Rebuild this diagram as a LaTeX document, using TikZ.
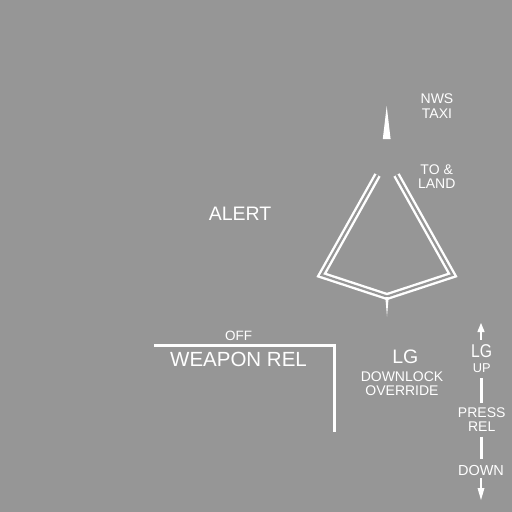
\documentclass[tikz,border=0pt]{standalone}
\usepackage{fontspec}
\setmainfont{Liberation Sans}
\begin{document}
\begin{tikzpicture}[x=1pt,y=-1pt,
  lbl/.style={text=white, inner sep=0pt, outer sep=0pt, align=center},
  bar/.style={draw=white, line width=2.5pt},
  thick bar/.style={draw=white, line width=3pt},
  tipfill/.style={fill=white, draw=none}]
\definecolor{bg}{RGB}{150,150,150}
\fill[bg] (0,0) rectangle (512,512);
\useasboundingbox (0,0) rectangle (512,512);

% labels
\node[lbl, font=\fontsize{14}{14.6}\selectfont] (nws) at (437,106) {NWS\\TAXI};
\node[lbl, font=\fontsize{14}{14.2}\selectfont] (toland) at (436.7,176.3) {TO \&\\LAND};
\node[lbl, font=\fontsize{19.5}{20}\selectfont] (alert) at (240,213.5) {ALERT};
\node[lbl, font=\fontsize{13.5}{14}\selectfont] (off) at (238.5,336.2) {OFF};
\node[lbl, font=\fontsize{20.5}{21}\selectfont] (weapon) at (238.5,359) {WEAPON REL};
\node[lbl, font=\fontsize{19.5}{20}\selectfont] (lg1) at (405.3,356.3) {LG};
\node[lbl, font=\fontsize{14}{14.4}\selectfont] (dlo) at (402,383.5) {DOWNLOCK\\OVERRIDE};
\node[lbl, font=\fontsize{18.5}{19}\selectfont, xscale=0.85] (lg2) at (481.7,351) {LG};
\node[lbl, font=\fontsize{12.8}{13}\selectfont] (up) at (481.7,368.5) {UP};
\node[lbl, font=\fontsize{14}{14}\selectfont] (press) at (481.7,419.7) {PRESS\\REL};
\node[lbl, font=\fontsize{14.5}{15}\selectfont] (down) at (481,471) {DOWN};

% weapon rel bracket
\coordinate (w1) at (154,345);
\coordinate (w2) at (334,345);
\coordinate (w3) at (334,432);
\draw[thick bar, line join=miter] (w1) -- (w2) -- (w3);

% diamond (double line)
\coordinate (d1) at (377.5,175);
\coordinate (d2) at (321.5,275);
\coordinate (d3) at (387,296.5);
\coordinate (d4) at (452.5,275);
\coordinate (d5) at (396.5,175);
\draw[draw=white, line width=2.4pt, double=bg, double distance=2.2pt, line join=miter]
  (d1) -- (d2) -- (d3) -- (d4) -- (d5);

% pointer
\coordinate (p1) at (382.8,139);
\coordinate (p2) at (390.6,139);
\coordinate (p3) at (386.7,106);
\fill[tipfill] (p1) -- (p2) -- (p3) -- cycle;

% spike under diamond
\coordinate (s1) at (385.3,297);
\coordinate (s2) at (388.7,297);
\coordinate (s3) at (387,316.5);
\fill[tipfill] (s1) -- (s2) -- (s3) -- cycle;

% LG switch column
\coordinate (ua1) at (481,339.5);
\coordinate (ua2) at (481,331);
\coordinate (uh1) at (477.3,332);
\coordinate (uh2) at (484.7,332);
\coordinate (uh3) at (481,323);
\draw[bar] (ua1) -- (ua2);
\fill[tipfill] (uh1) -- (uh2) -- (uh3) -- cycle;

\coordinate (b1) at (481.5,378);
\coordinate (b2) at (481.5,403.3);
\coordinate (b3) at (481.5,436.7);
\coordinate (b4) at (481.5,459);
\draw[bar] (b1) -- (b2);
\draw[bar] (b3) -- (b4);

\coordinate (da1) at (481,478);
\coordinate (da2) at (481,489);
\coordinate (dh1) at (477.5,488);
\coordinate (dh2) at (484.5,488);
\coordinate (dh3) at (481,500);
\draw[bar] (da1) -- (da2);
\fill[tipfill] (dh1) -- (dh2) -- (dh3) -- cycle;
\end{tikzpicture}
\end{document}
